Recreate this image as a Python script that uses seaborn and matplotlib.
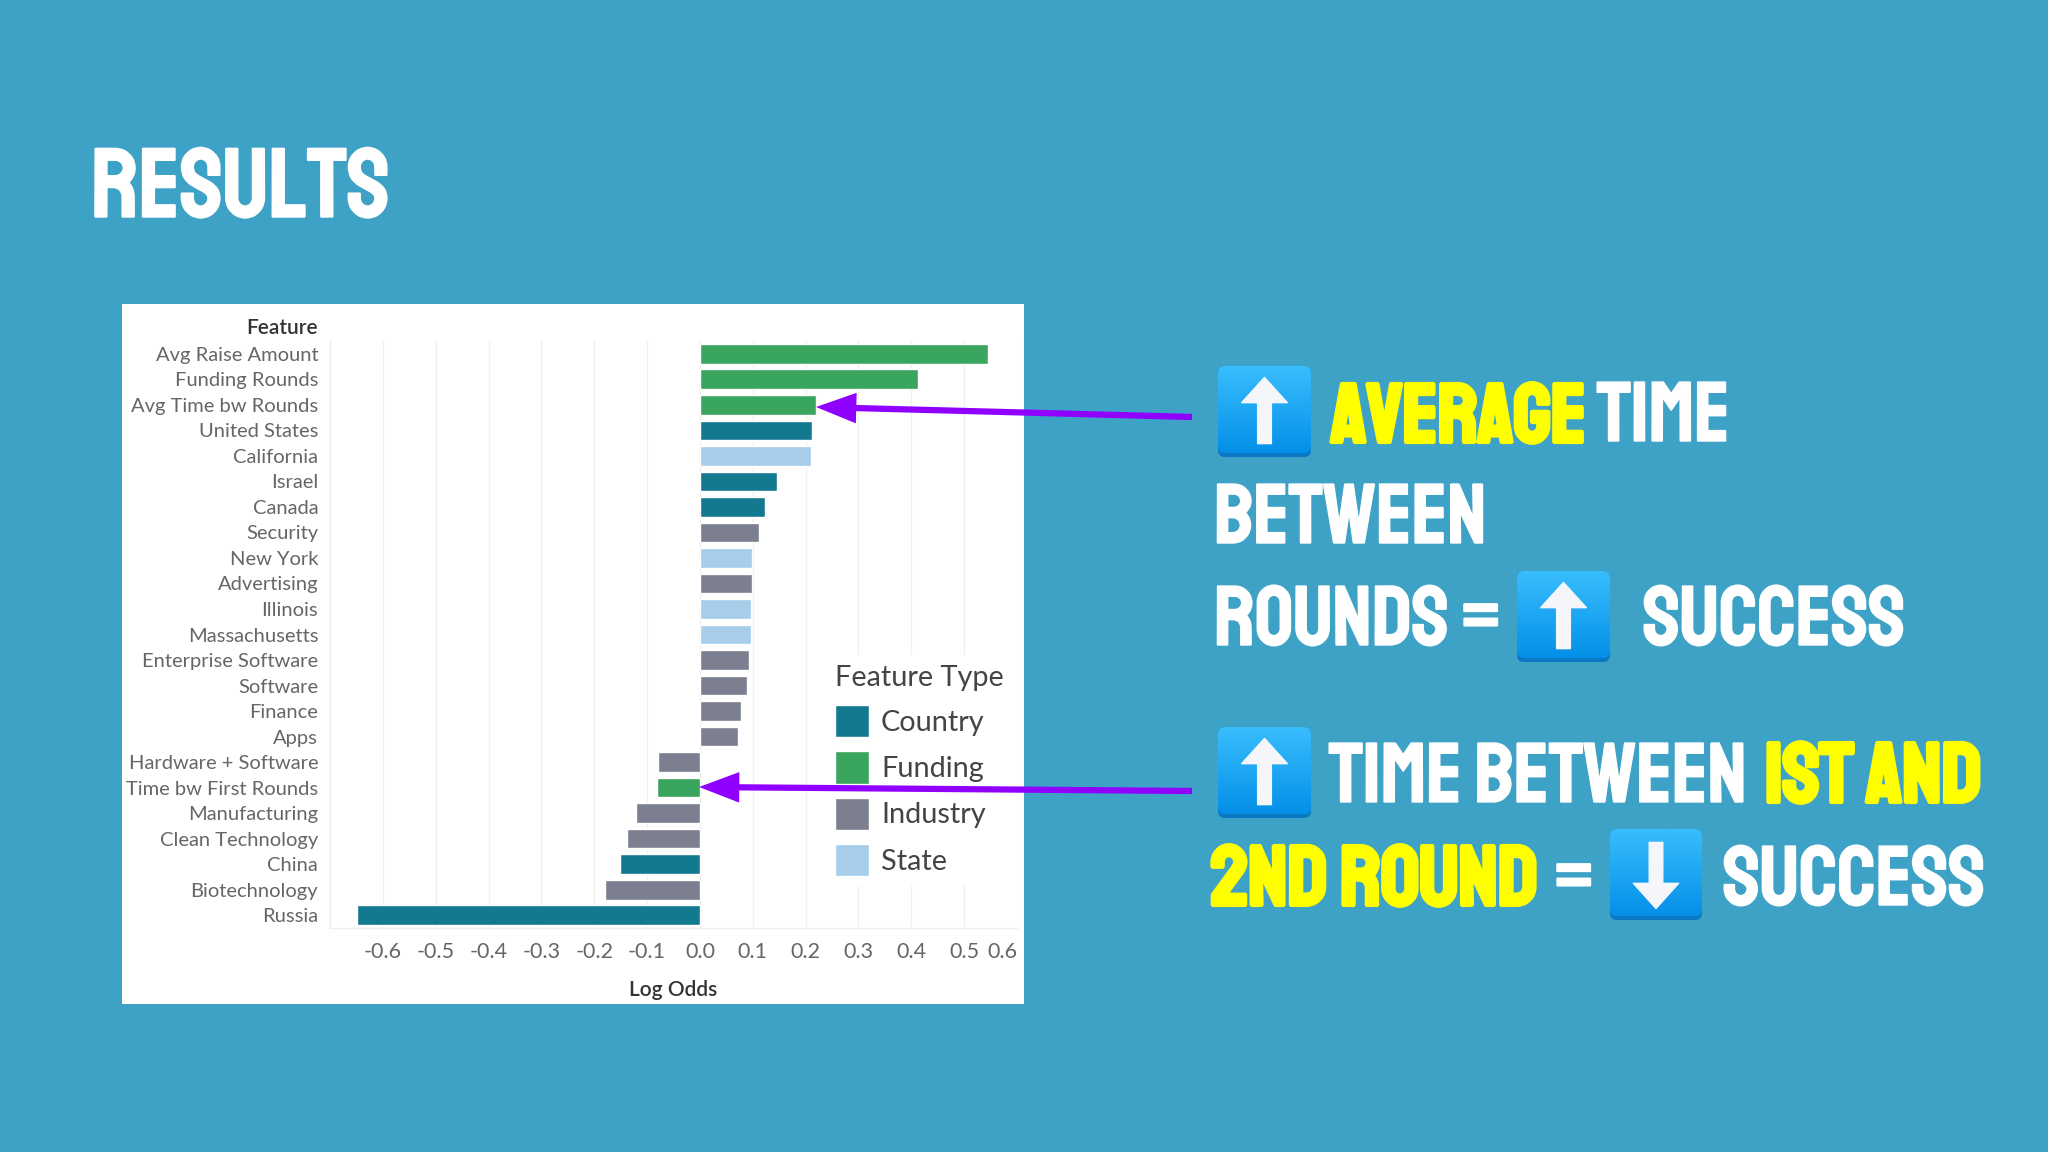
import matplotlib
matplotlib.use('Agg')
import matplotlib.pyplot as plt
import matplotlib.patheffects as pe
from matplotlib.patches import FancyBboxPatch, Polygon
import numpy as np
import pandas as pd
import seaborn as sns

features = ['Avg Raise Amount', 'Funding Rounds', 'Avg Time bw Rounds', 'United States', 'California',
            'Israel', 'Canada', 'Security', 'New York', 'Advertising', 'Illinois', 'Massachusetts',
            'Enterprise Software', 'Software', 'Finance', 'Apps', 'Hardware + Software',
            'Time bw First Rounds', 'Manufacturing', 'Clean Technology', 'China', 'Biotechnology', 'Russia']
log_odds = [0.545, 0.413, 0.220, 0.212, 0.210, 0.145, 0.123, 0.111, 0.099, 0.099, 0.097, 0.097,
            0.092, 0.089, 0.077, 0.072, -0.080, -0.082, -0.121, -0.138, -0.152, -0.179, -0.649]
feature_types = ['Funding', 'Funding', 'Funding', 'Country', 'State', 'Country', 'Country', 'Industry',
                 'State', 'Industry', 'State', 'State', 'Industry', 'Industry', 'Industry', 'Industry',
                 'Industry', 'Funding', 'Industry', 'Industry', 'Country', 'Industry', 'Country']
type_order = ['Country', 'Funding', 'Industry', 'State']
type_colors = ['#12798F', '#3AA55F', '#7B7F8F', '#A6CDE9']
x_ticks = [-0.6, -0.5, -0.4, -0.3, -0.2, -0.1, 0.0, 0.1, 0.2, 0.3, 0.4, 0.5, 0.6]

W, H = 2048, 1152
BG = '#3DA2C6'
YELLOW = '#FFFF00'
PURPLE = '#8F00FF'
HEAD = ['Staatliches', 'Bebas Neue', 'DejaVu Sans']

sns.set_style('white')
plt.rcParams['font.family'] = ['Lato', 'DejaVu Sans']

df = pd.DataFrame({'feature': features, 'log_odds': log_odds, 'type': feature_types})

fig = plt.figure(figsize=(W / 100, H / 100), dpi=100, facecolor=BG)
card = fig.add_axes([122 / W, 1 - 1004 / H, 902 / W, 700 / H], facecolor='white')
card.set_xticks([])
card.set_yticks([])
for s in card.spines.values():
    s.set_visible(False)

# chart area, pixel positions from the reference
ax = fig.add_axes([330 / W, 1 - 928 / H, 687 / W, 587 / H])
ax.set_facecolor('white')
sns.barplot(data=df, x='log_odds', y='feature', hue='type', hue_order=type_order, palette=type_colors,
            dodge=False, width=0.77, saturation=1, ax=ax, zorder=3)
ax.set_xlim(-0.7, 0.6)
ax.set_ylim(len(features) - 0.5, -0.5)
ax.set_xticks(x_ticks)
ax.set_xticklabels(['%.1f' % t for t in x_ticks])
ax.get_xticklabels()[-1].set_horizontalalignment('right')
ax.grid(axis='x', color='#F0F0F0', linewidth=1, zorder=0)
ax.set_axisbelow(True)
ax.tick_params(axis='y', length=0, pad=8.5, labelsize=14.5, labelcolor='#666666')
ax.tick_params(axis='x', length=0, pad=10, labelsize=15.5, labelcolor='#666666')
for name in ['top', 'right']:
    ax.spines[name].set_visible(False)
for name in ['left', 'bottom']:
    ax.spines[name].set_color('#EEEEEE')
    ax.spines[name].set_linewidth(1)
ax.set_xlabel('Log Odds', fontsize=15, color='#333333', labelpad=13, fontweight='semibold')
ax.set_ylabel('')

leg = ax.legend(title='Feature Type', loc='upper left', bbox_to_anchor=((825 - 330) / 687, (928 - 655) / 587),
                frameon=True, facecolor='white', edgecolor='none', framealpha=1, fontsize=20.8,
                title_fontsize=20.8, handlelength=1.17, handleheight=1.35, labelspacing=0.48,
                handletextpad=0.42, borderpad=0.35, borderaxespad=0, alignment='left')
leg.get_title().set_color('#444444')
leg.set_zorder(5)
for t in leg.get_texts():
    t.set_color('#444444')

# overlay in image pixels for headings, arrows and buttons
ov = fig.add_axes([0, 0, 1, 1], facecolor='none')
ov.axis('off')


def button(x0, y0, x1, y1, up=True):
    box = FancyBboxPatch((x0 + 4, y0 + 4), x1 - x0 - 8, y1 - y0 - 8, boxstyle='round,pad=4,rounding_size=7',
                         facecolor='#0A78C2', edgecolor='none', transform=ov.transData, zorder=2)
    ov.add_patch(box)
    grad = np.linspace(0, 1, 64).reshape(-1, 1)
    im = ov.imshow(grad, extent=(x0, x1, y1 - 4, y0), aspect='auto', zorder=3,
                   cmap=matplotlib.colors.LinearSegmentedColormap.from_list('btn', ['#38BDFD', '#0490E8']))
    clip = FancyBboxPatch((x0 + 4, y0 + 4), x1 - x0 - 8, y1 - y0 - 12, boxstyle='round,pad=4,rounding_size=7',
                          transform=ov.transData, facecolor='none', edgecolor='none')
    ov.add_patch(clip)
    im.set_clip_path(clip)
    w, h = x1 - x0, y1 - y0
    xs = np.array([0.5, 0.746, 0.574, 0.574, 0.426, 0.426, 0.254])
    ys = np.array([0.126, 0.403, 0.403, 0.853, 0.853, 0.403, 0.403])
    if not up:
        ys = 1 - ys
    ov.add_patch(Polygon(np.c_[x0 + xs * w, y0 + ys * h], closed=True, facecolor='#F5F6FA', edgecolor='#F5F6FA',
                         linewidth=1, joinstyle='round', zorder=4))


def word(x, y, s, color='white', size=61):
    lw = 3 if color == YELLOW else 1
    ov.text(x, y, s, color=color, fontsize=size, family=HEAD,
            va='baseline', ha='left', zorder=5,
            path_effects=[pe.withStroke(linewidth=lw, foreground=color)])


button(1218, 366, 1311, 457)
button(1517, 571, 1610, 662)
button(1218, 727, 1311, 818)
button(1610, 829, 1702, 920, up=False)

word(91, 217, 'RESULTS', size=71)
word(1331, 442, 'AVERAGE', color=YELLOW, size=60)
word(1597, 441, 'TIME')
word(1214, 543, 'BETWEEN')
word(1214, 645, 'ROUNDS')
word(1462, 645, '=')
word(1643, 645, 'SUCCESS')
word(1329, 802, 'TIME BETWEEN')
word(1765, 802, 'IST AND', color=YELLOW)
word(1211, 905, '2ND ROUND', color=YELLOW)
word(1555, 905, '=')
word(1723, 905, 'SUCCESS')

for tail, tip in [((1192, 417), (816, 407)), ((1192, 791), (699, 787))]:
    ov.annotate('', xy=tip, xytext=tail, zorder=6,
                arrowprops=dict(facecolor=PURPLE, edgecolor='none', width=4.5, headwidth=22, headlength=29, shrink=0))

ov.text(318, 328, 'Feature', ha='right', va='center', fontsize=15, color='#333333', fontweight='semibold')

ov.set_xlim(0, W)
ov.set_ylim(H, 0)

fig.savefig('out.png', dpi=100, facecolor=BG)
